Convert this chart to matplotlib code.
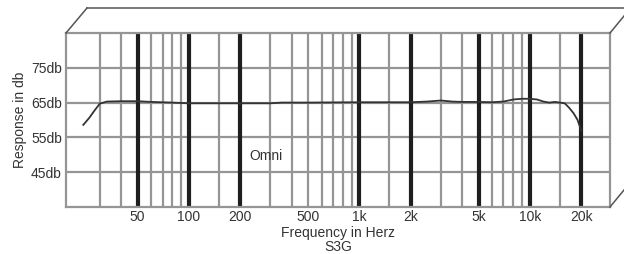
import matplotlib
matplotlib.use("Agg")
import matplotlib.pyplot as plt
from matplotlib.lines import Line2D

plt.rcParams['font.family'] = ['Liberation Sans', 'DejaVu Sans']

# --- DATA ---
freq_hz = [24, 26, 28, 30, 33, 40, 50, 60, 80, 100, 150, 200, 300, 350, 400,
           500, 1000, 2000, 2500, 3000, 3500, 4000, 5000, 6000, 7000, 8000,
           9000, 10000, 11000, 12000, 13000, 14000, 15000, 16000, 17000,
           18000, 19000, 20000]
response_db = [58.6, 60.6, 62.8, 64.7, 65.3, 65.4, 65.4, 65.2, 65.0, 64.8, 64.8,
               64.8, 64.8, 65.0, 65.0, 65.0, 65.1, 65.1, 65.3, 65.6, 65.3, 65.2,
               65.2, 65.1, 65.3, 65.9, 66.1, 66.1, 65.9, 65.3, 65.0, 65.2, 65.0,
               64.8, 63.5, 62.0, 60.1, 57.0]

major_lines = [50, 100, 200, 1000, 2000, 5000, 10000, 20000]
minor_lines = [30, 40, 60, 70, 80, 90, 150, 300, 400, 500, 600, 700, 800, 900,
               1500, 3000, 4000, 6000, 7000, 8000, 9000, 15000]
x_ticks = [50, 100, 200, 500, 1000, 2000, 5000, 10000, 20000]
x_labels = ['50', '100', '200', '500', '1k', '2k', '5k', '10k', '20k']
y_ticks = [45, 55, 65, 75]
y_labels = ['45db', '55db', '65db', '75db']

W, H = 624, 254
fig = plt.figure(figsize=(W / 100, H / 100), dpi=100)
left, right, top, bottom = 66, 610, 33, 207
ax = fig.add_axes([left / W, 1 - bottom / H, (right - left) / W, (bottom - top) / H])

ax.set_xscale('log')
ax.set_xlim(19, 29500)
ax.set_ylim(35, 85)

grid_grey = '#959595'
for f in minor_lines:
    ax.axvline(f, color=grid_grey, lw=1.6, zorder=1)
for f in major_lines:
    ax.axvline(f, color='#1e1e1e', lw=3.0, zorder=2)
for d in y_ticks:
    ax.axhline(d, color=grid_grey, lw=1.6, zorder=1)

ax.plot(freq_hz, response_db, color='#333333', lw=1.3, zorder=3)

fs = 10
ax.set_xticks(x_ticks)
ax.set_xticklabels(x_labels)
ax.xaxis.set_minor_locator(matplotlib.ticker.NullLocator())
ax.set_yticks(y_ticks)
ax.set_yticklabels(y_labels)
ax.tick_params(length=0, labelsize=fs, colors='#333333', pad=3)
ax.tick_params(axis='x', pad=2)
for s in ax.spines.values():
    s.set_color(grid_grey)
    s.set_linewidth(1.6)

ax.set_ylabel('Response in db', fontsize=fs, color='#333333', labelpad=3)
fig.text(338 / W, 1 - 233 / H, 'Frequency in Herz', ha='center', va='center',
         fontsize=fs, color='#333333')
fig.text(338 / W, 1 - 247 / H, 'S3G', ha='center', va='center',
         fontsize=fs, color='#333333')
ax.text(266 / W, 1 - 156 / H, 'Omni', transform=fig.transFigure, ha='center',
        va='center', fontsize=fs, color='#333333')

# 3D box outline
box = '#555555'
def fline(x0, y0, x1, y1):
    fig.add_artist(Line2D([x0 / W, x1 / W], [1 - y0 / H, 1 - y1 / H],
                          transform=fig.transFigure, color=box, lw=1.1))

fline(left, top, 87, 8)
fline(87, 8, W, 8)
fline(right, top, W, 16)
fline(right, bottom, W, 190)

fig.savefig('out.png', dpi=100)
